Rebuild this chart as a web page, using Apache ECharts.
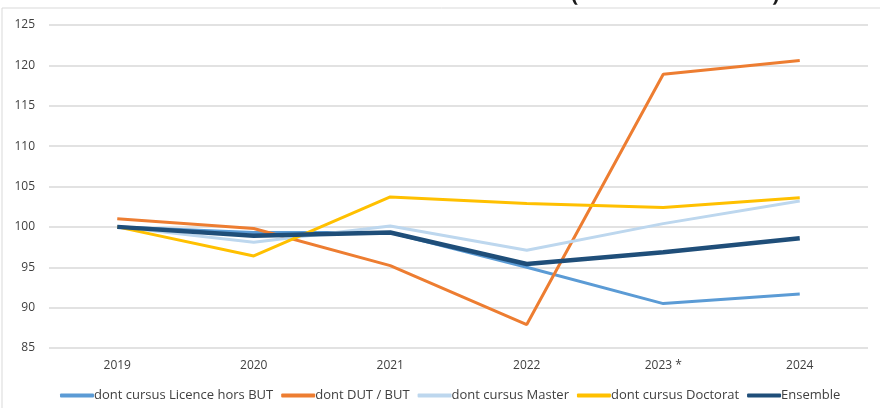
<!DOCTYPE html>
<html>
<head>
<meta charset="utf-8">
<script src="https://cdn.jsdelivr.net/npm/echarts@6/dist/echarts.min.js"></script>
<style>
html, body { margin: 0; padding: 0; background: #fff; }
#chart { width: 880px; height: 408px; }
</style>
</head>
<body>
<div id="chart"></div>
<script>
// années
var years = ['2019', '2020', '2021', '2022', '2023 *', '2024'];
// séries (indice base 100)
var licence = [100, 99.3, 99.3, 95.0, 90.5, 91.7];
var dutBut = [101.0, 99.8, 95.2, 87.9, 118.9, 120.6];
var master = [100, 98.1, 100.1, 97.1, 100.4, 103.2];
var doctorat = [100, 96.4, 103.7, 102.9, 102.4, 103.6];
var ensemble = [100, 98.9, 99.3, 95.4, 96.85, 98.6];

var names = ['dont cursus Licence hors BUT', 'dont DUT / BUT', 'dont cursus Master', 'dont cursus Doctorat', 'Ensemble'];
var colors = ['#5B9BD5', '#ED7D31', '#BDD7EE', '#FFC000', '#1F4E79'];
var widths = [3, 3, 3, 3, 4.5];
var values = [licence, dutBut, master, doctorat, ensemble];

var chart = echarts.init(document.getElementById('chart'));

var series = values.map(function (v, i) {
    return {
        name: names[i],
        type: 'line',
        data: v,
        symbol: 'none',
        lineStyle: { color: colors[i], width: widths[i] },
        itemStyle: { color: colors[i] },
        z: 2 + i
    };
});

chart.setOption({
    animation: false,
    textStyle: { fontFamily: 'Open Sans' },
    graphic: [
        {
            type: 'rect',
            shape: { x: 2, y: 8, width: 900, height: 500 },
            style: { fill: 'none', stroke: '#d9d9d9', lineWidth: 1 },
            silent: true
        },
        {
            type: 'text', x: 571, y: 6,
            style: { text: '(', font: 'bold 22px Open Sans', fill: '#1a1a1a', verticalAlign: 'bottom' }
        },
        {
            type: 'text', x: 772, y: 6,
            style: { text: ')', font: 'bold 22px Open Sans', fill: '#1a1a1a', verticalAlign: 'bottom' }
        }
    ],
    legend: {
        bottom: 1,
        left: 55,
        itemWidth: 34,
        itemHeight: 4,
        itemGap: 8,
        icon: 'roundRect',
        textStyle: { color: '#404040', fontSize: 13, padding: [0, 0, 0, -5] },
        data: names
    },
    grid: { left: 49, right: 12, top: 25, bottom: 60, containLabel: false },
    xAxis: {
        type: 'category',
        data: years,
        boundaryGap: true,
        axisLine: { show: false },
        axisTick: { show: false },
        axisLabel: { color: '#404040', fontSize: 12, margin: 12 }
    },
    yAxis: {
        type: 'value',
        min: 85,
        max: 125,
        interval: 5,
        axisLine: { show: false },
        axisTick: { show: false },
        axisLabel: { color: '#404040', fontSize: 12, margin: 14 },
        splitLine: { lineStyle: { color: '#d9d9d9', width: 1.5 } }
    },
    series: series
});
</script>
</body>
</html>
